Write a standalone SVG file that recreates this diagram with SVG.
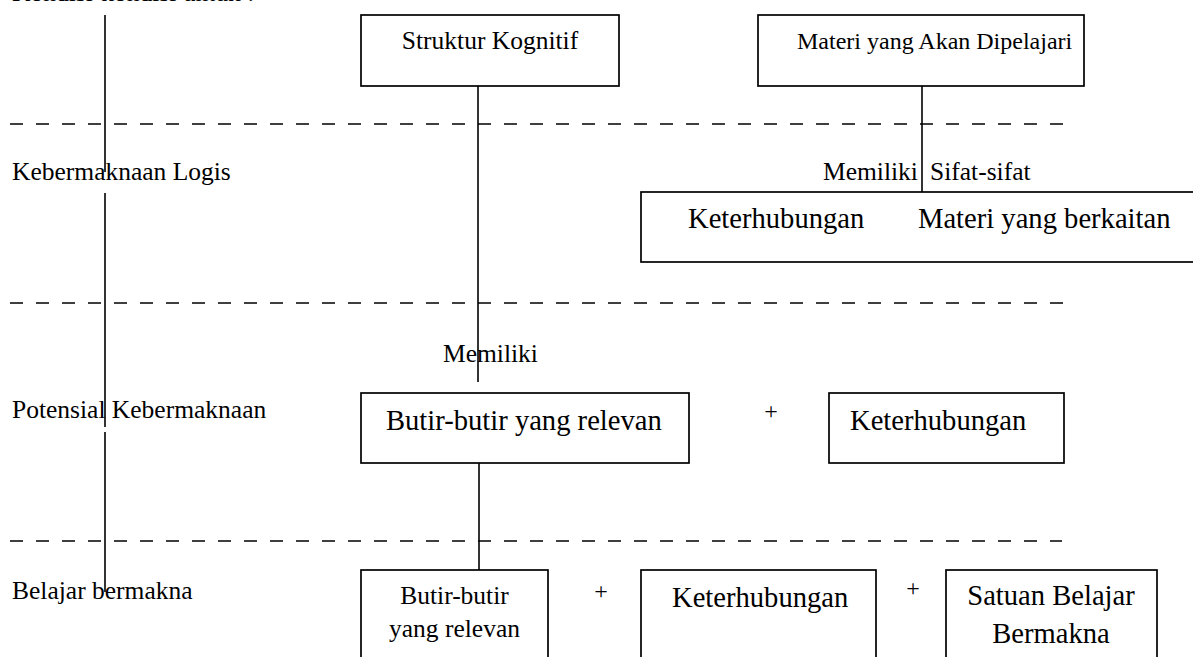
<svg xmlns="http://www.w3.org/2000/svg" width="1193" height="657" viewBox="0 0 1193 657">
<style>
text{font-family:"Liberation Serif","Times New Roman",serif;fill:#000}
.lbl{font-size:25.5px}
.big{font-size:28.6px}
.plus{font-size:24px}
.box{fill:#fff;stroke:#000;stroke-width:1.7}
.ln{stroke:#000;stroke-width:1.6;fill:none}
.dash{stroke:#000;stroke-width:1.3;stroke-dasharray:13 13;fill:none}
</style>
<rect width="1193" height="657" fill="#fff"/>
<g id="dividers">
<line class="dash" x1="10" y1="124" x2="1068" y2="124"/>
<line class="dash" x1="10" y1="303" x2="1075" y2="303"/>
<line class="dash" x1="10" y1="541" x2="1062" y2="541"/>
</g>
<g id="labels">
<text class="lbl" x="12" y="1">Kondisi-kondisi untuk :</text>
<text class="lbl" x="12" y="180">Kebermaknaan Logis</text>
<text class="lbl" x="12" y="418">Potensial Kebermaknaan</text>
<text class="lbl" x="12" y="599">Belajar bermakna</text>
</g>
<g id="connectors">
<line class="ln" x1="105" y1="15" x2="105" y2="172"/>
<line class="ln" x1="105" y1="193" x2="105" y2="427"/>
<line class="ln" x1="105" y1="432" x2="105" y2="592"/>
<line class="ln" x1="478" y1="86" x2="478" y2="382"/>
<line class="ln" x1="922" y1="86" x2="922" y2="192"/>
<line class="ln" x1="479" y1="463" x2="479" y2="570"/>
<text class="lbl" x="823" y="180">Memiliki</text>
<text class="lbl" x="930" y="180">Sifat-sifat</text>
<text class="lbl" x="443" y="362">Memiliki</text>
</g>
<g id="struktur-kognitif">
<rect class="box" x="361" y="15" width="258" height="71"/>
<text class="lbl" x="490" y="49" text-anchor="middle">Struktur Kognitif</text>
</g>
<g id="materi-dipelajari">
<rect class="box" x="758" y="15" width="326" height="71"/>
<text x="797" y="49" style="font-size:24px">Materi yang Akan Dipelajari</text>
</g>
<g id="sifat-box">
<rect class="box" x="641" y="192" width="600" height="70"/>
<text class="big" x="688" y="228">Keterhubungan</text>
<text class="big" x="918" y="228">Materi yang berkaitan</text>
</g>
<g id="butir-relevan">
<rect class="box" x="361" y="393" width="328" height="70"/>
<text class="big" x="386" y="430">Butir-butir yang relevan</text>
</g>
<g id="plus-1"><text class="plus" x="771" y="419" text-anchor="middle">+</text></g>
<g id="keterhubungan-potensial">
<rect class="box" x="829" y="393" width="235" height="70"/>
<text class="big" x="850" y="430">Keterhubungan</text>
</g>
<g id="butir-bawah">
<rect class="box" x="361" y="570" width="187" height="110"/>
<text class="lbl" x="454.5" y="604" text-anchor="middle">Butir-butir</text>
<text class="lbl" x="454.5" y="637" text-anchor="middle">yang relevan</text>
</g>
<g id="plus-2"><text class="plus" x="601" y="599" text-anchor="middle">+</text></g>
<g id="keterhubungan-bawah">
<rect class="box" x="641" y="570" width="235" height="110"/>
<text class="big" x="672" y="607">Keterhubungan</text>
</g>
<g id="plus-3"><text class="plus" x="913" y="596" text-anchor="middle">+</text></g>
<g id="satuan-belajar">
<rect class="box" x="946" y="570" width="211" height="110"/>
<text class="big" x="1051" y="605" text-anchor="middle">Satuan Belajar</text>
<text class="big" x="1051" y="643" text-anchor="middle">Bermakna</text>
</g>
</svg>
